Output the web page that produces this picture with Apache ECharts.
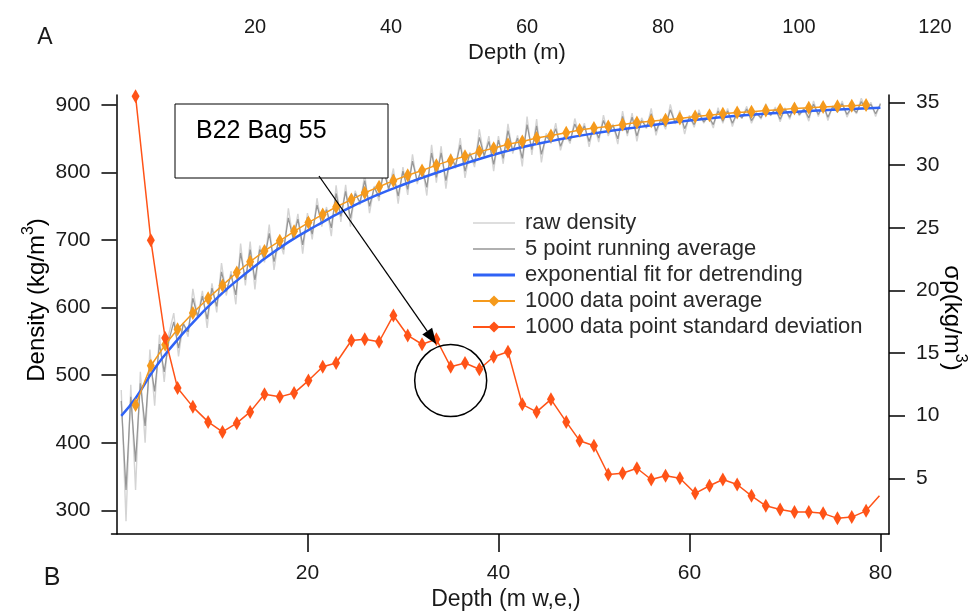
<!DOCTYPE html>
<html><head><meta charset="utf-8">
<script src="https://cdn.jsdelivr.net/npm/echarts@6/dist/echarts.min.js"></script>
<style>html,body{margin:0;padding:0;background:#fff}#c{width:975px;height:613px}</style>
</head><body><div id="c"></div>
<script>
// ---- data ----
const noiseDepth = [0.5,1,1.5,2,2.5,3,3.5,4,4.5,5,5.5,6,6.5,7,7.5,8,8.5,9,9.5,10,10.5,11,11.5,12,12.5,13,13.5,14,14.5,15,15.5,16,16.5,17,17.5,18,18.5,19,19.5,20,20.5,21,21.5,22,22.5,23,23.5,24,24.5,25,25.5,26,26.5,27,27.5,28,28.5,29,29.5,30,30.5,31,31.5,32,32.5,33,33.5,34,34.5,35,35.5,36,36.5,37,37.5,38,38.5,39,39.5,40,40.5,41,41.5,42,42.5,43,43.5,44,44.5,45,45.5,46,46.5,47,47.5,48,48.5,49,49.5,50,50.5,51,51.5,52,52.5,53,53.5,54,54.5,55,55.5,56,56.5,57,57.5,58,58.5,59,59.5,60,60.5,61,61.5,62,62.5,63,63.5,64,64.5,65,65.5,66,66.5,67,67.5,68,68.5,69,69.5,70,70.5,71,71.5,72,72.5,73,73.5,74,74.5,75,75.5,76,76.5,77,77.5,78,78.5,79,79.5,80];
const rawDensity = [478,284,486,330,505,400,538,455,560,490,562,592,528,578,557,628,585,625,570,636,593,666,618,654,605,695,633,698,627,692,667,723,656,703,679,747,701,739,680,740,701,762,720,749,706,781,727,782,720,773,752,798,740,780,758,814,774,806,754,808,767,827,783,811,766,841,785,839,776,828,806,851,792,830,808,864,823,854,802,854,813,872,828,855,809,883,826,879,815,858,843,873,833,858,843,880,852,873,838,873,845,885,854,872,842,891,854,888,846,881,865,895,855,880,864,901,872,892,857,885,867,893,873,885,866,896,873,895,868,890,880,898,873,889,879,902,884,897,875,896,879,903,884,895,876,906,883,904,877,899,889,906,882,897,887,910,892,904,883,903];
const avg5 = [462,330,468,372,488,425,522,476,546,505,552,579,540,576,564,614,587,617,583,629,602,653,624,649,619,681,641,686,641,686,672,710,668,701,686,733,703,731,693,734,709,752,724,745,718,769,735,772,732,769,756,788,750,778,764,802,776,798,765,802,775,817,787,807,778,829,793,829,788,824,810,841,802,828,814,852,825,846,812,848,821,862,832,851,821,871,834,869,827,854,845,865,839,856,847,872,854,869,846,869,851,877,858,870,850,883,858,882,854,877,867,887,861,878,868,893,874,888,865,882,871,888,875,883,871,891,876,891,873,888,881,894,877,888,881,897,885,894,879,894,882,899,886,894,881,901,886,900,882,897,890,902,886,896,889,905,893,901,887,901];
const fitDepth = [0.5,2,4,6,8,10,12,15,18,21,24,27,30,34,38,42,46,50,55,60,65,70,75,80];
const fitDensity = [440,466,510,546,578,607,633,667,697,722,745,765,782,802,820,836,848,858,868,877,884,889,893,896];
const sdDepth = [2.0,3.6,5.1,6.4,8.0,9.6,11.1,12.6,14.0,15.5,17.1,18.6,20.1,21.6,23.0,24.6,26.0,27.5,29.0,30.5,32.0,33.5,35.0,36.5,38.0,39.5,41.0,42.5,44.0,45.5,47.1,48.5,50.0,51.5,53.0,54.5,56.0,57.5,59.0,60.6,62.1,63.5,65.0,66.5,68.0,69.5,71.0,72.5,74.0,75.5,77.0,78.5];
const avg1000 = [456,514,545,568,592,614,633,652,668,684,699,713,726,738,749,760,770,779,788,796,803,811,818,824,831,836,842,846,851,855,859,863,866,868,871,874,876,878,880,883,885,887,889,890,892,893,895,896,897,898,899,900];
const sd1000 = [35.5,24.0,16.2,12.2,10.7,9.5,8.7,9.4,10.3,11.7,11.5,11.8,12.8,13.9,14.2,16.0,16.1,15.9,18.0,16.4,15.7,16.1,13.9,14.2,13.7,14.7,15.1,10.9,10.3,11.3,9.5,8.0,7.6,5.3,5.4,5.8,4.9,5.2,5.0,3.8,4.4,4.9,4.5,3.6,2.8,2.5,2.3,2.3,2.2,1.8,1.9,2.4];
const sdEndDepth = 79.9, sdEndValue = 3.6;
const bottomTicks = [20,40,60,80];
const topTicks = [20,40,60,80,100,120];
const leftTicks = [300,400,500,600,700,800,900];
const rightTicks = [5,10,15,20,25,30,35];
const seriesNames = ['raw density','5 point running average','exponential fit for detrending','1000 data point average','1000 data point standard deviation'];
const noteText = 'B22 Bag 55';
const noteCircle = [35.0, 12.8];   // depth, sigma (right axis)
const noteArrowTip = [33.5, 15.7];

// ---- chart ----
const FF = "'Liberation Sans', Arial, Helvetica, sans-serif";
const chart = echarts.init(document.getElementById('c'), null, {renderer: 'canvas'});
const zip = (xs, ys) => xs.map((x, i) => [x, ys[i]]);
const sdData = zip(sdDepth, sd1000);
sdData.push({value: [sdEndDepth, sdEndValue], symbol: 'none'});
const axLine = {show: true, lineStyle: {color: '#000', width: 1.5}};
const lbl = {color: '#1a1a1a', fontSize: 21, fontFamily: FF};
const lineIcon = (t) => 'path://M0,0L42,0L42,0.01L0,0.01Z M0,' + (7 - t / 2) + 'L42,' + (7 - t / 2) + 'L42,' + (7 + t / 2) + 'L0,' + (7 + t / 2) + 'Z M0,13.99L42,13.99L42,14L0,14Z';

chart.setOption({
  animation: false,
  backgroundColor: '#fff',
  grid: [
    {left: 111.5, right: 86, top: 95, bottom: 79},
    {left: 119, width: 816, top: 39, height: 1}
  ],
  xAxis: [
    {type: 'value', gridIndex: 0, min: -0.52, max: 80.9, position: 'bottom',
     axisLine: axLine, splitLine: {show: false},
     axisTick: {show: true, inside: false, length: 18, customValues: bottomTicks, lineStyle: {color: '#000', width: 1.5}},
     axisLabel: Object.assign({margin: 29, customValues: bottomTicks}, lbl)},
    {type: 'value', gridIndex: 1, min: 0, max: 120, position: 'top',
     axisLine: {show: false}, axisTick: {show: false}, splitLine: {show: false},
     axisLabel: Object.assign({margin: 2, customValues: topTicks}, lbl, {fontSize: 20})}
  ],
  yAxis: [
    {type: 'value', gridIndex: 0, min: 265, max: 914.8, position: 'left',
     axisLine: axLine, splitLine: {show: false},
     axisTick: {show: true, inside: false, length: 15, customValues: leftTicks, lineStyle: {color: '#000', width: 1.5}},
     axisLabel: Object.assign({margin: 21, customValues: leftTicks}, lbl)},
    {type: 'value', gridIndex: 0, min: 0.55, max: 35.6, position: 'right',
     axisLine: axLine, splitLine: {show: false},
     axisTick: {show: true, inside: false, length: 16, customValues: rightTicks, lineStyle: {color: '#000', width: 1.5}},
     axisLabel: Object.assign({margin: 27, customValues: rightTicks}, lbl)},
    {type: 'value', gridIndex: 1, show: false}
  ],
  legend: {
    orient: 'vertical', left: 467, top: 207, itemWidth: 42, itemHeight: 14, itemGap: 4,
    selectedMode: false,
    data: [
      {name: seriesNames[0], icon: lineIcon(1.4)},
      {name: seriesNames[1], icon: lineIcon(1.4)},
      {name: seriesNames[2], icon: lineIcon(3)},
      {name: seriesNames[3]},
      {name: seriesNames[4]}
    ],
    textStyle: {fontSize: 22, lineHeight: 21, color: '#2a2a2a', fontFamily: FF, padding: [0, 0, 0, 5]}
  },
  series: [
    {name: seriesNames[0], type: 'line', data: zip(noiseDepth, rawDensity), symbol: 'none',
     lineStyle: {color: '#d4d4d4', width: 1.4}, itemStyle: {color: '#d4d4d4'}, z: 1},
    {name: seriesNames[1], type: 'line', data: zip(noiseDepth, avg5), symbol: 'none',
     lineStyle: {color: '#969696', width: 1.3}, itemStyle: {color: '#969696'}, z: 2},
    {name: seriesNames[2], type: 'line', data: zip(fitDepth, fitDensity), symbol: 'none', smooth: true,
     lineStyle: {color: '#2f62f5', width: 2.5}, itemStyle: {color: '#2f62f5'}, z: 3},
    {name: seriesNames[3], type: 'line', data: zip(sdDepth, avg1000), symbol: 'diamond', symbolSize: [8, 14],
     lineStyle: {color: '#f59a1c', width: 1.5}, itemStyle: {color: '#f59a1c'}, z: 4},
    {name: seriesNames[4], type: 'line', yAxisIndex: 1, data: sdData, symbol: 'diamond', symbolSize: [8, 14],
     clip: false, lineStyle: {color: '#ff5317', width: 1.5}, itemStyle: {color: '#ff5317'}, z: 5}
  ]
});

// ---- annotations & titles ----
const cPix = chart.convertToPixel({xAxisIndex: 0, yAxisIndex: 1}, noteCircle);
const tip = chart.convertToPixel({xAxisIndex: 0, yAxisIndex: 1}, noteArrowTip);
const box = {x: 175, y: 104, w: 213, h: 74};
const start = [319, box.y + box.h - 2];
const dx = tip[0] - start[0], dy = tip[1] - start[1];
const L = Math.hypot(dx, dy), ux = dx / L, uy = dy / L, nx = -uy, ny = ux;
const hl = 16, hw = 6;
const base = [tip[0] - hl * ux, tip[1] - hl * uy];
const titleRich = (size) => ({a: {fontSize: size, fontFamily: FF, color: '#1a1a1a', lineHeight: size + 8},
                              s: {fontSize: Math.round(size * 0.65), fontFamily: FF, color: '#1a1a1a', verticalAlign: 'top', lineHeight: size + 8}});
chart.setOption({
  graphic: [
    {type: 'rect', shape: {x: box.x, y: box.y, width: box.w, height: box.h}, style: {fill: '#fff', stroke: '#000', lineWidth: 1}, z: 100},
    {type: 'text', x: 196, y: 131, style: {text: noteText, fontSize: 25, fontFamily: FF, fill: '#000', textVerticalAlign: 'middle'}, z: 101},
    {type: 'line', shape: {x1: start[0], y1: start[1], x2: base[0], y2: base[1]}, style: {stroke: '#000', lineWidth: 1.3}, z: 100},
    {type: 'polygon', shape: {points: [tip, [base[0] + hw * nx, base[1] + hw * ny], [base[0] - hw * nx, base[1] - hw * ny]]}, style: {fill: '#000'}, z: 100},
    {type: 'circle', shape: {cx: cPix[0], cy: cPix[1], r: 36}, style: {fill: 'none', stroke: '#000', lineWidth: 1.5}, z: 100},
    {type: 'text', x: 45, y: 38, style: {text: 'A', fontSize: 23, fontFamily: FF, fill: '#1a1a1a', textAlign: 'center', textVerticalAlign: 'middle'}},
    {type: 'text', x: 52, y: 578, style: {text: 'B', fontSize: 25, fontFamily: FF, fill: '#1a1a1a', textAlign: 'center', textVerticalAlign: 'middle'}},
    {type: 'text', x: 517, y: 53, style: {text: 'Depth (m)', fontSize: 22, fontFamily: FF, fill: '#1a1a1a', textAlign: 'center', textVerticalAlign: 'middle'}},
    {type: 'text', x: 506, y: 600, style: {text: 'Depth (m w,e,)', fontSize: 23, fontFamily: FF, fill: '#1a1a1a', textAlign: 'center', textVerticalAlign: 'middle'}},
    {type: 'text', x: 37, y: 300, rotation: Math.PI / 2, style: {text: '{a|Density (kg/m}{s|3}{a|)}', rich: titleRich(24), textAlign: 'center', textVerticalAlign: 'middle'}},
    {type: 'text', x: 952, y: 318, rotation: -Math.PI / 2, style: {text: '{a|σρ(kg/m}{s|3}{a|)}', rich: titleRich(24), textAlign: 'center', textVerticalAlign: 'middle'}}
  ]
});
</script></body></html>
